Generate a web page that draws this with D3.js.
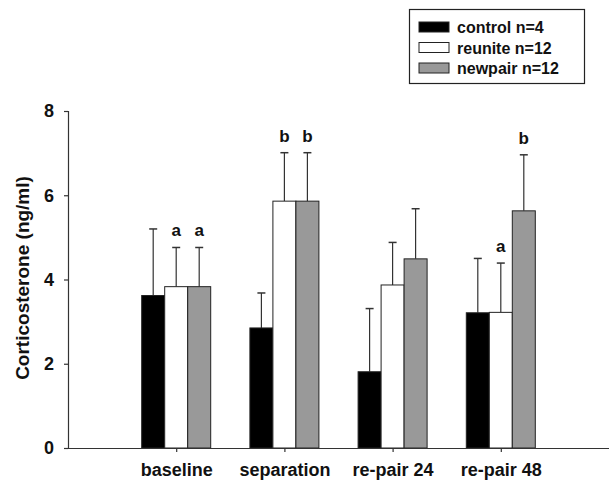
<!DOCTYPE html>
<html>
<head>
<meta charset="utf-8">
<script src="https://cdn.jsdelivr.net/npm/d3@7"></script>
<style>
  body { margin: 0; background: #fff; }
  svg { font-family: "Liberation Sans", Arial, sans-serif; font-weight: bold; }
</style>
</head>
<body>
<div id="chart"></div>
<script>
// corticosterone by condition, mean + upper error bar
const categories = ["baseline", "separation", "re-pair 24", "re-pair 48"];
const groups = ["control n=4", "reunite n=12", "newpair n=12"];
const colors = ["#000000", "#ffffff", "#999999"];

const means = [
  [3.62, 2.85, 1.81, 3.21], // control
  [3.83, 5.86, 3.87, 3.22], // reunite
  [3.83, 5.86, 4.49, 5.63]  // newpair
];
const errTops = [
  [5.20, 3.68, 3.31, 4.50],
  [4.76, 7.01, 4.88, 4.39],
  [4.76, 7.01, 5.68, 6.96]
];
// significance letters, "" = none
const letters = [
  ["", "", "", ""],
  ["a", "b", "", "a"],
  ["a", "b", "", "b"]
];
const yTicks = [0, 2, 4, 6, 8];

const width = 609, height = 480;

const svg = d3.select("#chart")
  .append("svg")
  .attr("width", width)
  .attr("height", height);

const x = d3.scaleLinear().domain([0, 5]).range([68, 609]);
const y = d3.scaleLinear().domain([0, 8]).range([448, 111]);
const barW = 23;

// bars
for (let g = 0; g < groups.length; g++) {
  const gg = svg.append("g");
  categories.forEach((c, i) => {
    const cx = x(i + 1) + (g - 1) * barW;
    const top = y(means[g][i]);
    const et = y(errTops[g][i]);
    // error line
    gg.append("line")
      .attr("x1", cx).attr("x2", cx)
      .attr("y1", top).attr("y2", et)
      .attr("stroke", "#333").attr("stroke-width", 1.2);
    gg.append("line")
      .attr("x1", cx - 4).attr("x2", cx + 4)
      .attr("y1", et).attr("y2", et)
      .attr("stroke", "#333").attr("stroke-width", 1.5);
    gg.append("rect")
      .attr("x", cx - barW / 2)
      .attr("y", top)
      .attr("width", barW)
      .attr("height", y(0) - top)
      .attr("fill", colors[g])
      .attr("stroke", "#222")
      .attr("stroke-width", 1);
    if (letters[g][i]) {
      gg.append("text")
        .attr("x", cx)
        .attr("y", et - 11)
        .attr("text-anchor", "middle")
        .attr("font-size", 17)
        .attr("fill", "#111")
        .text(letters[g][i]);
    }
  });
}

// y axis
const yAxis = svg.append("g")
  .attr("transform", "translate(68,0)")
  .call(d3.axisLeft(y).tickValues(yTicks).tickSize(4).tickPadding(10));
yAxis.selectAll("text").attr("font-size", 18).attr("font-family", null).attr("fill", "#111");
yAxis.selectAll("line,path").attr("stroke", "#333").attr("stroke-width", 1.2);

// x axis
const xAxis = svg.append("g")
  .attr("transform", "translate(0,448)")
  .call(d3.axisBottom(x).tickValues([1, 2, 3, 4])
    .tickFormat(d => categories[d - 1]).tickSize(4).tickSizeOuter(0).tickPadding(11));
xAxis.selectAll("text").attr("font-size", 18).attr("font-family", null).attr("fill", "#111");
xAxis.selectAll("line,path").attr("stroke", "#333").attr("stroke-width", 1.2);

// y label
svg.append("text")
  .attr("transform", "translate(29,278) rotate(-90)")
  .attr("text-anchor", "middle")
  .attr("font-size", 19)
  .attr("fill", "#111")
  .text("Corticosterone (ng/ml)");

// legend
const legend = svg.append("g");
legend.append("rect")
  .attr("x", 409.5).attr("y", 9.5)
  .attr("width", 175).attr("height", 74)
  .attr("fill", "#fff").attr("stroke", "#222").attr("stroke-width", 1.2);
groups.forEach((name, g) => {
  const ly = 27 + g * 20.5;
  legend.append("rect")
    .attr("x", 419).attr("y", ly - 5)
    .attr("width", 30).attr("height", 10)
    .attr("fill", colors[g]).attr("stroke", "#222").attr("stroke-width", 1);
  legend.append("text")
    .attr("x", 457).attr("y", ly + 6)
    .attr("font-size", 16)
    .attr("fill", "#111")
    .text(name);
});
</script>
</body>
</html>
